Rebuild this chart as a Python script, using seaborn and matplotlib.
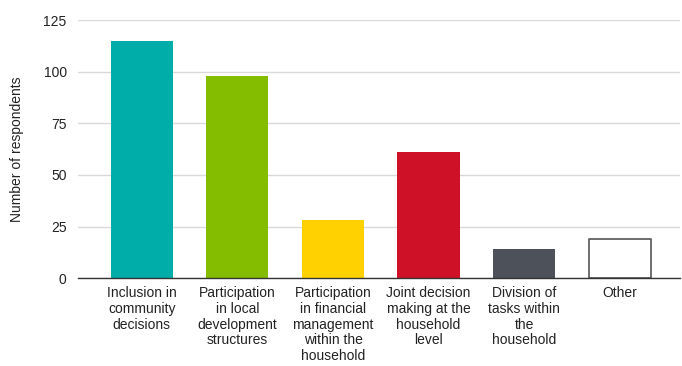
import matplotlib
matplotlib.use("Agg")
import matplotlib.pyplot as plt
import seaborn as sns
import pandas as pd

categories = [
    "Inclusion in\ncommunity\ndecisions",
    "Participation\nin local\ndevelopment\nstructures",
    "Participation\nin financial\nmanagement\nwithin the\nhousehold",
    "Joint decision\nmaking at the\nhousehold\nlevel",
    "Division of\ntasks within\nthe\nhousehold",
    "Other",
]
respondents = [115, 98, 28, 61, 14, 19]
bar_colors = ["#00ADA9", "#84BD00", "#FFD100", "#CE1126", "#4D5159", "#FFFFFF"]
y_ticks = [0, 25, 50, 75, 100, 125]

sns.set_theme(style="white")
plt.rcParams["font.family"] = ["Liberation Sans", "DejaVu Sans"]

df = pd.DataFrame({"category": categories, "value": respondents})

fig = plt.figure(figsize=(6.82, 3.66), dpi=100)
ax = fig.add_axes([0.114, 0.240, 0.883, 0.705])

sns.barplot(data=df, x="category", y="value", hue="category",
            palette=bar_colors, width=0.65, legend=False, ax=ax,
            saturation=1)

for patch, c in zip(ax.patches, bar_colors):
    patch.set_joinstyle("round")
    if c.upper() == "#FFFFFF":
        patch.set_edgecolor("#555555")
        patch.set_linewidth(1.2)
    else:
        patch.set_edgecolor("none")

ax.set_ylim(0, 125)
ax.set_xlim(-0.67, 5.63)
ax.set_yticks(y_ticks)
ax.yaxis.grid(True, color="#d9d9d9", linewidth=1)
ax.set_axisbelow(True)
for s in ["top", "right", "left"]:
    ax.spines[s].set_visible(False)
ax.spines["bottom"].set_color("#333333")
ax.spines["bottom"].set_linewidth(1)

ax.tick_params(axis="y", length=0, labelsize=10, labelcolor="#222222", pad=8)
ax.tick_params(axis="x", length=0, labelsize=10, labelcolor="#222222", pad=6)
ax.set_xticks(range(len(categories)))
ax.set_xticklabels(categories, va="top", ha="center", linespacing=1.15)

ax.set_xlabel("")
ax.set_ylabel("Number of respondents", fontsize=10, color="#222222", labelpad=14)

fig.savefig("out.png", dpi=100)
